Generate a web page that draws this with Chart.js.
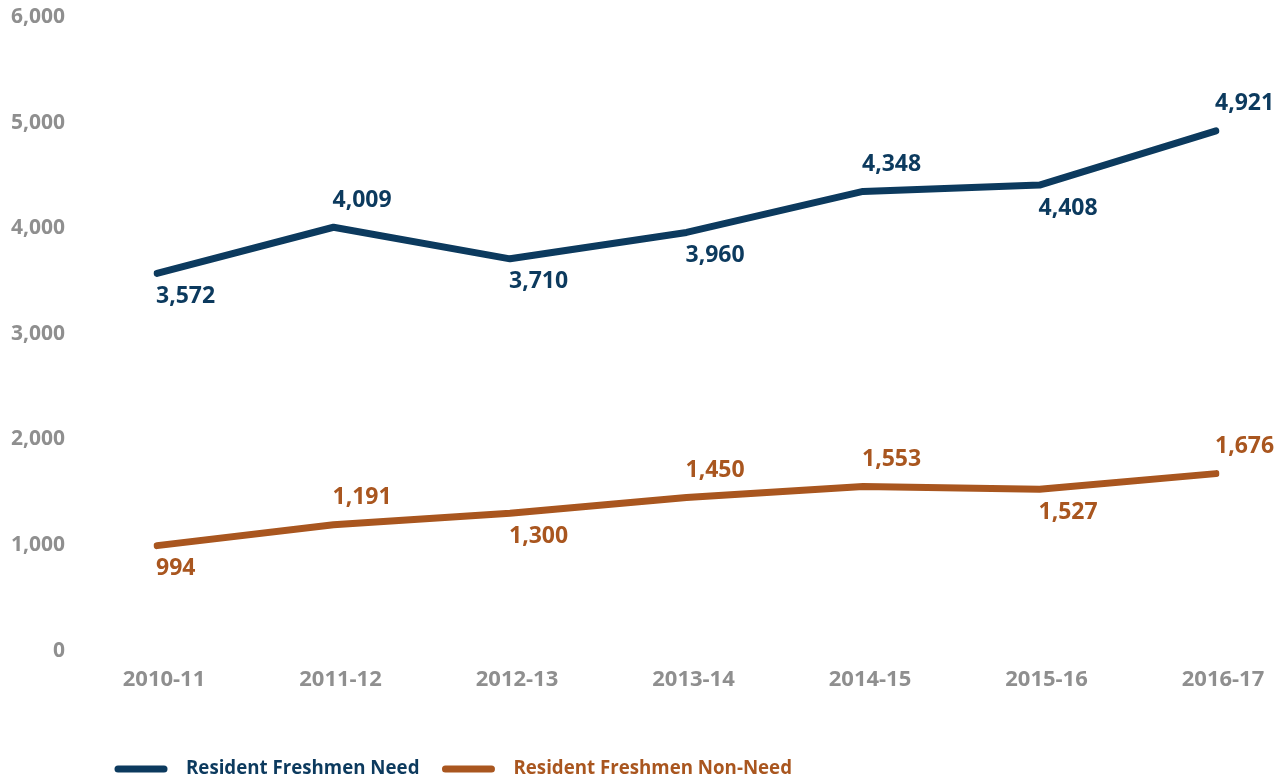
<!DOCTYPE html>
<html>
<head>
<meta charset="utf-8">
<script src="https://cdn.jsdelivr.net/npm/chart.js@4.4.1/dist/chart.umd.min.js"></script>
<style>
  html, body { margin: 0; padding: 0; background: #ffffff; }
  #wrap { width: 1274px; height: 780px; }
</style>
</head>
<body>
<div id="wrap"><canvas id="c" width="1274" height="780"></canvas></div>
<script>
const categories = ['2010-11', '2011-12', '2012-13', '2013-14', '2014-15', '2015-16', '2016-17'];
const needValues = [3572, 4009, 3710, 3960, 4348, 4408, 4921];
const nonNeedValues = [994, 1191, 1300, 1450, 1553, 1527, 1676];
const seriesNames = ['Resident Freshmen Need', 'Resident Freshmen Non-Need'];
const yTicks = [0, 1000, 2000, 3000, 4000, 5000, 6000];

// label placement (style): 1 = above, -1 = below
const needLabelSide = [-1, 1, -1, -1, 1, -1, 1];
const nonNeedLabelSide = [-1, 1, -1, 1, 1, -1, 1];

const BLUE = '#0c3a5e';
const ORANGE = '#a9561f';
const GRAY = '#8f8f8f';
const FONT = "'Open Sans', 'DejaVu Sans', sans-serif";

const fmt = v => v.toLocaleString('en-US');

const dataLabelPlugin = {
  id: 'dataLabels',
  afterDatasetsDraw(chart) {
    const ctx = chart.ctx;
    ctx.save();
    ctx.font = `bold 23px ${FONT}`;
    ctx.textAlign = 'left';
    ctx.textBaseline = 'middle';
    chart.data.datasets.forEach((ds, di) => {
      const meta = chart.getDatasetMeta(di);
      const sides = ds.labelSides;
      ctx.fillStyle = ds.borderColor;
      meta.data.forEach((pt, i) => {
        const up = sides[i] > 0;
        const y = up ? pt.y - 27 : pt.y + 23;
        ctx.fillText(fmt(ds.data[i]), pt.x - 1, y);
      });
    });
    ctx.restore();
  }
};

const legendPlugin = {
  id: 'customLegend',
  afterDraw(chart) {
    const ctx = chart.ctx;
    ctx.save();
    ctx.font = `bold 18.7px ${FONT}`;
    ctx.textBaseline = 'middle';
    ctx.textAlign = 'left';
    const y = 769;
    let x = 118;
    chart.data.datasets.forEach((ds) => {
      ctx.strokeStyle = ds.borderColor;
      ctx.lineWidth = 7;
      ctx.lineCap = 'round';
      ctx.beginPath();
      ctx.moveTo(x, y);
      ctx.lineTo(x + 46, y);
      ctx.stroke();
      ctx.fillStyle = ds.borderColor;
      const tx = x + 68;
      ctx.fillText(ds.label, tx, y);
      x = tx + ctx.measureText(ds.label).width + 26;
    });
    ctx.restore();
  }
};

const datasets = [
  { label: seriesNames[0], data: needValues, borderColor: BLUE, labelSides: needLabelSide },
  { label: seriesNames[1], data: nonNeedValues, borderColor: ORANGE, labelSides: nonNeedLabelSide }
].map(d => Object.assign(d, {
  borderWidth: 7,
  borderCapStyle: 'round',
  borderJoinStyle: 'round',
  pointRadius: 0,
  pointHoverRadius: 0,
  tension: 0,
  fill: false
}));

new Chart(document.getElementById('c'), {
  type: 'line',
  data: { labels: categories, datasets },
  options: {
    responsive: false,
    animation: false,
    layout: { padding: { top: 5, right: 58, bottom: 71, left: 5 } },
    plugins: { legend: { display: false }, tooltip: { enabled: false } },
    scales: {
      x: {
        offset: false,
        grid: { display: false, drawTicks: false },
        border: { display: false },
        ticks: { color: GRAY, font: { family: FONT, size: 22, weight: 'bold' }, padding: 16, labelOffset: 7, maxRotation: 0 }
      },
      y: {
        min: 0, max: 6000,
        afterBuildTicks(scale) { scale.ticks = yTicks.map(v => ({ value: v })); },
        afterFit(scale) { scale.width = 152; scale.paddingTop = 17; scale.paddingBottom = 12; },
        grid: { display: false, drawTicks: false },
        border: { display: false },
        ticks: { color: GRAY, font: { family: FONT, size: 21, weight: 'bold' }, padding: 92, callback: v => fmt(v) }
      }
    }
  },
  plugins: [dataLabelPlugin, legendPlugin]
});
</script>
</body>
</html>
